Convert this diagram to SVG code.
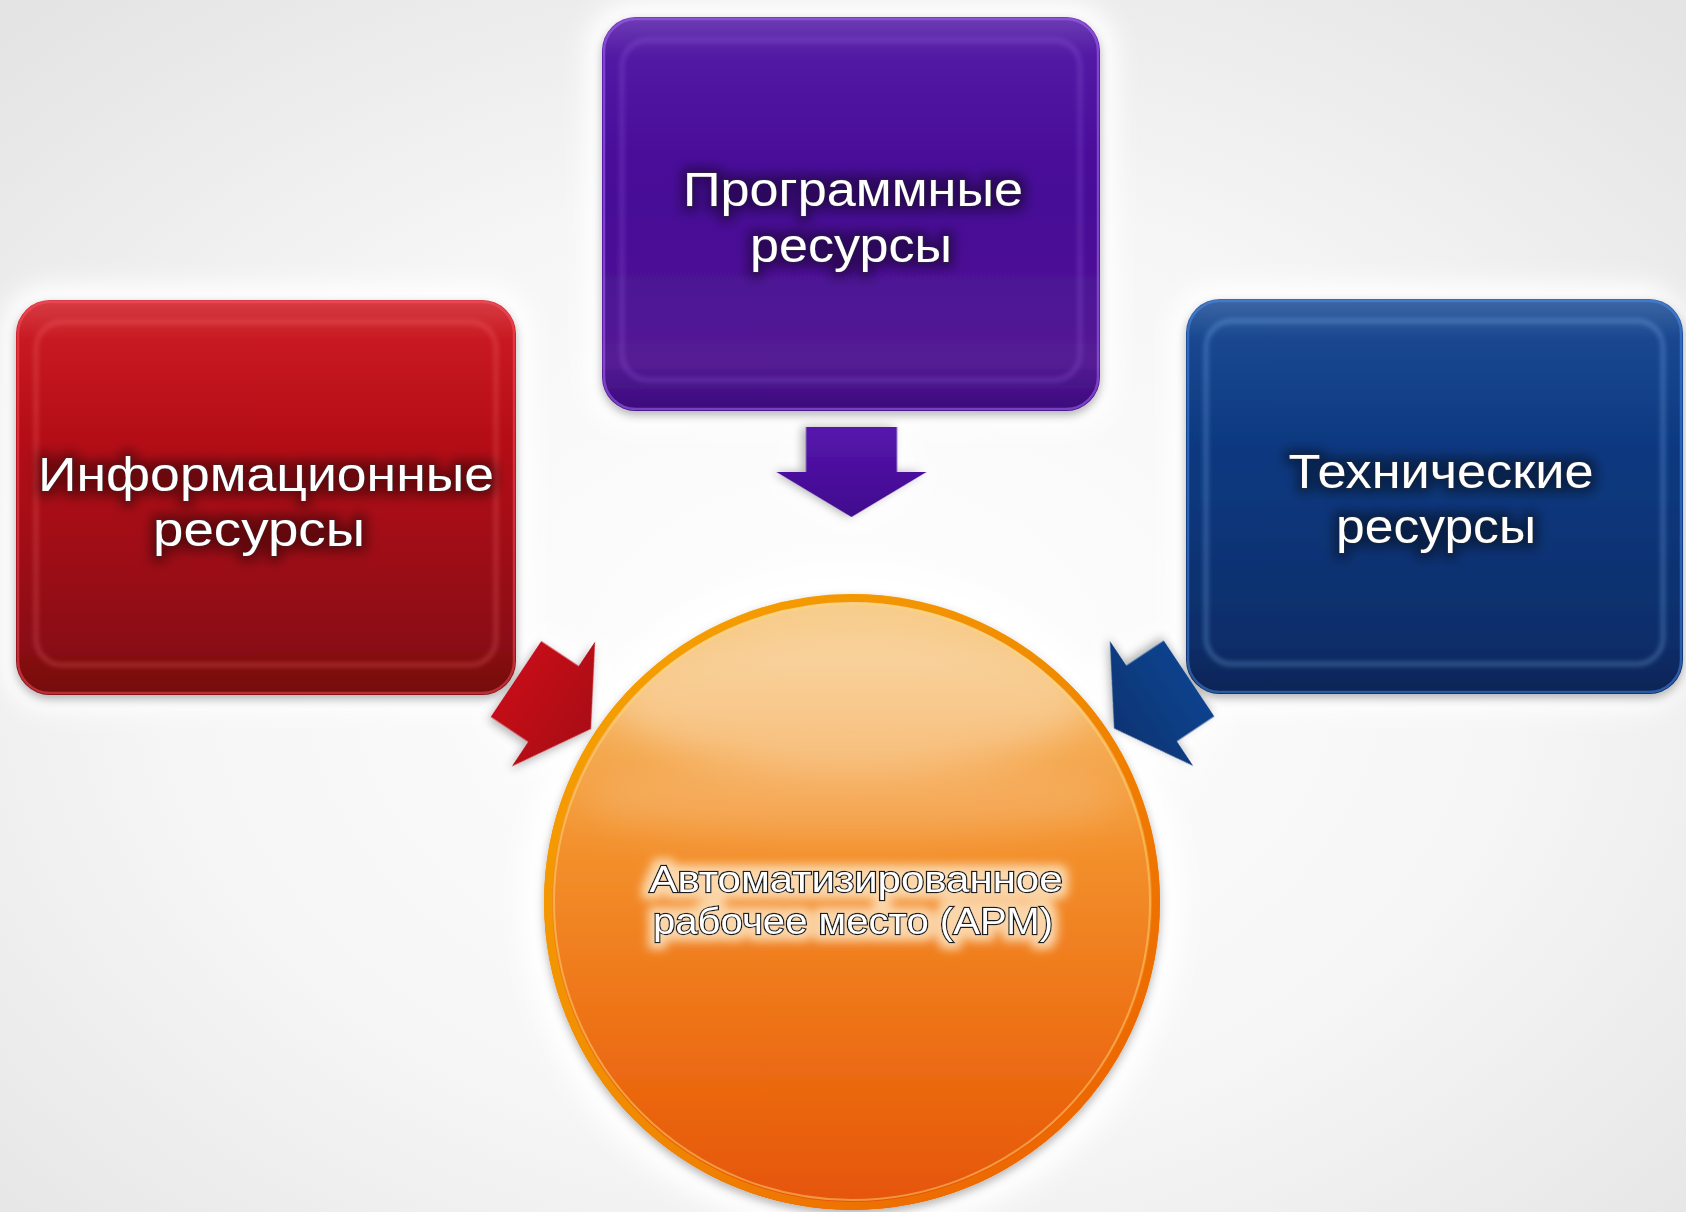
<svg xmlns="http://www.w3.org/2000/svg" width="1686" height="1212" viewBox="0 0 1686 1212">
<defs>
<style>
.lbl{font-family:"Liberation Sans",Arial,sans-serif;fill:#ffffff;text-anchor:middle;}
.big{font-size:49px;stroke:#2a2a2a;stroke-width:0.8px;paint-order:stroke;}
.small{font-size:36px;stroke:#1e1e1e;stroke-width:2.4px;paint-order:stroke;}
.glow{fill:#ffffff;filter:url(#whiteGlow);}
.gloss{fill:url(#gloss);}
.bevel{fill:none;stroke-width:3;filter:url(#soft);}
</style>
<radialGradient id="bg" cx="0.5" cy="0.55" r="0.72">
<stop offset="0" stop-color="#ffffff"/>
<stop offset="0.55" stop-color="#f6f6f6"/>
<stop offset="1" stop-color="#e4e4e4"/>
</radialGradient>
<linearGradient id="purpleG" x1="0" y1="0" x2="0" y2="1">
<stop offset="0" stop-color="#4a08a2"/>
<stop offset="0.5" stop-color="#470a96"/>
<stop offset="0.88" stop-color="#541c94"/>
<stop offset="1" stop-color="#3a087c"/>
</linearGradient>
<linearGradient id="redG" x1="0" y1="0" x2="0" y2="1">
<stop offset="0" stop-color="#cc0816"/>
<stop offset="0.5" stop-color="#aa0816"/>
<stop offset="0.88" stop-color="#8a0a12"/>
<stop offset="1" stop-color="#74080e"/>
</linearGradient>
<linearGradient id="blueG" x1="0" y1="0" x2="0" y2="1">
<stop offset="0" stop-color="#0c408e"/>
<stop offset="0.5" stop-color="#0a377c"/>
<stop offset="0.88" stop-color="#092d68"/>
<stop offset="1" stop-color="#072456"/>
</linearGradient>
<linearGradient id="gloss" x1="0" y1="0" x2="0" y2="1">
<stop offset="0" stop-color="#ffffff" stop-opacity="0.2"/>
<stop offset="0.1" stop-color="#ffffff" stop-opacity="0.05"/>
<stop offset="0.35" stop-color="#ffffff" stop-opacity="0"/>
<stop offset="1" stop-color="#ffffff" stop-opacity="0"/>
</linearGradient>
<linearGradient id="arrowPurple" x1="0" y1="0" x2="1" y2="0">
<stop offset="0" stop-color="#5616ac"/>
<stop offset="1" stop-color="#40088e"/>
</linearGradient>
<linearGradient id="arrowRed" x1="0" y1="0" x2="1" y2="0">
<stop offset="0" stop-color="#c40e1a"/>
<stop offset="1" stop-color="#aa0812"/>
</linearGradient>
<linearGradient id="arrowBlue" x1="0" y1="0" x2="1" y2="0">
<stop offset="0" stop-color="#0d428c"/>
<stop offset="1" stop-color="#093474"/>
</linearGradient>
<linearGradient id="orangeG" x1="0" y1="0" x2="0" y2="1">
<stop offset="0" stop-color="#f7cf90"/>
<stop offset="0.18" stop-color="#f5b460"/>
<stop offset="0.4" stop-color="#f3922e"/>
<stop offset="0.7" stop-color="#ee7216"/>
<stop offset="1" stop-color="#e55406"/>
</linearGradient>
<linearGradient id="ringG" x1="0" y1="0" x2="1" y2="1">
<stop offset="0" stop-color="#f7a400"/>
<stop offset="0.5" stop-color="#f08a00"/>
<stop offset="1" stop-color="#ec5a00"/>
</linearGradient>
<filter id="whiteGlow" x="-20%" y="-20%" width="140%" height="140%">
<feGaussianBlur stdDeviation="12"/>
</filter>
<filter id="shadow" x="-10%" y="-10%" width="120%" height="125%">
<feDropShadow dx="0" dy="4" stdDeviation="5" flood-color="#000000" flood-opacity="0.3"/>
</filter>
<filter id="soft" x="-10%" y="-10%" width="120%" height="120%">
<feGaussianBlur stdDeviation="2.5"/>
</filter>
<filter id="blurBig" x="-30%" y="-60%" width="160%" height="220%">
<feGaussianBlur stdDeviation="18"/>
</filter>
<filter id="txtDark" x="-15%" y="-40%" width="130%" height="180%">
<feMorphology in="SourceAlpha" operator="dilate" radius="5" result="d"/>
<feGaussianBlur in="d" stdDeviation="6" result="b"/>
<feFlood flood-color="#000000" flood-opacity="0.4"/>
<feComposite in2="b" operator="in" result="halo"/>
<feMerge><feMergeNode in="halo"/><feMergeNode in="SourceGraphic"/></feMerge>
</filter>
<filter id="txtLight" x="-15%" y="-40%" width="130%" height="180%">
<feMorphology in="SourceAlpha" operator="dilate" radius="6" result="d"/>
<feGaussianBlur in="d" stdDeviation="5" result="b"/>
<feFlood flood-color="#fff1d6" flood-opacity="0.75"/>
<feComposite in2="b" operator="in" result="halo"/>
<feMerge><feMergeNode in="halo"/><feMergeNode in="SourceGraphic"/></feMerge>
</filter>
<path id="arrowShape" d="M0,-45.5 L45,-45.5 L45,-75 L90,0 L45,75 L45,45.5 L0,45.5 Z"/>
</defs>

<rect x="0" y="0" width="1686" height="1212" fill="url(#bg)"/>
<g id="background-glow">
<rect class="glow" x="586" y="2" width="530" height="426" rx="48"/>
<rect class="glow" x="2" y="285" width="530" height="425" rx="48"/>
<rect class="glow" x="1171" y="284" width="515" height="426" rx="48"/>
<circle class="glow" cx="852" cy="902" r="332"/>
<use href="#arrowShape" class="glow" transform="translate(851.5,420) rotate(90) scale(1.2)"/>
<use href="#arrowShape" class="glow" transform="translate(510,675) rotate(33.7) scale(1.2)"/>
<use href="#arrowShape" class="glow" transform="translate(1195,675) rotate(146.3) scale(1.2)"/>
</g>

<g id="node-programmnye">
<rect x="602" y="17" width="498" height="394" rx="34" fill="url(#purpleG)" filter="url(#shadow)"/>
<rect x="602" y="17" width="498" height="394" rx="34" class="gloss"/>
<rect x="604" y="19" width="494" height="390" rx="32" fill="none" stroke="#a060f0" stroke-opacity="0.6" stroke-width="2.5"/>
<rect x="622" y="40" width="458" height="340" rx="26" class="bevel" stroke="#9a62e0" stroke-opacity="0.45"/>
<text class="lbl big" filter="url(#txtDark)"><tspan x="853" y="206" textLength="340" lengthAdjust="spacingAndGlyphs">Программные</tspan><tspan x="851" y="262" textLength="202" lengthAdjust="spacingAndGlyphs">ресурсы</tspan></text>
</g>

<g id="node-informatsionnye">
<rect x="16" y="300" width="500" height="395" rx="34" fill="url(#redG)" filter="url(#shadow)"/>
<rect x="16" y="300" width="500" height="395" rx="34" class="gloss"/>
<rect x="18" y="302" width="496" height="391" rx="32" fill="none" stroke="#ff5060" stroke-opacity="0.5" stroke-width="2.5"/>
<rect x="36" y="322" width="460" height="343" rx="26" class="bevel" stroke="#ff7a80" stroke-opacity="0.4"/>
<text class="lbl big" filter="url(#txtDark)"><tspan x="266" y="491" textLength="456" lengthAdjust="spacingAndGlyphs">Информационные</tspan><tspan x="259" y="546" textLength="212" lengthAdjust="spacingAndGlyphs">ресурсы</tspan></text>
</g>

<g id="node-tekhnicheskie">
<rect x="1186" y="299" width="497" height="395" rx="34" fill="url(#blueG)" filter="url(#shadow)"/>
<rect x="1186" y="299" width="497" height="395" rx="34" class="gloss"/>
<rect x="1188" y="301" width="493" height="391" rx="32" fill="none" stroke="#4a90f0" stroke-opacity="0.5" stroke-width="2.5"/>
<rect x="1206" y="321" width="457" height="343" rx="26" class="bevel" stroke="#8fc4ff" stroke-opacity="0.45"/>
<text class="lbl big" filter="url(#txtDark)"><tspan x="1441" y="488" textLength="305" lengthAdjust="spacingAndGlyphs">Технические</tspan><tspan x="1436" y="543" textLength="200" lengthAdjust="spacingAndGlyphs">ресурсы</tspan></text>
</g>

<g id="node-arm">
<circle cx="852" cy="902" r="308" fill="url(#orangeG)" filter="url(#shadow)"/>
<ellipse cx="852" cy="700" rx="240" ry="70" fill="#ffffff" fill-opacity="0.28" filter="url(#blurBig)"/>
<ellipse cx="852" cy="800" rx="270" ry="40" fill="#ffffff" fill-opacity="0.15" filter="url(#blurBig)"/>
<circle cx="852" cy="902" r="304" fill="none" stroke="url(#ringG)" stroke-width="8"/>
<circle cx="852" cy="902" r="298" fill="none" stroke="#ffd870" stroke-opacity="0.5" stroke-width="2"/>
<text class="lbl small" filter="url(#txtLight)"><tspan x="856" y="892" textLength="413" lengthAdjust="spacingAndGlyphs">Автоматизированное</tspan><tspan x="853" y="934" textLength="400" lengthAdjust="spacingAndGlyphs">рабочее место (АРМ)</tspan></text>
</g>

<g id="connectors">
<g id="arrow-programmnye" transform="translate(851.5,427) rotate(90)">
<use href="#arrowShape" fill="url(#arrowPurple)" filter="url(#shadow)"/>
<path d="M8,-30 L40,-30" stroke="#b080ff" stroke-opacity="0.45" stroke-width="4" filter="url(#soft)"/>
</g>
<g id="arrow-informatsionnye" transform="translate(516,679) rotate(33.7)">
<use href="#arrowShape" fill="url(#arrowRed)" filter="url(#shadow)"/>
<path d="M12,-25 L40,-25" stroke="#ff8890" stroke-opacity="0.45" stroke-width="5" filter="url(#soft)"/>
</g>
<g id="arrow-tekhnicheskie" transform="translate(1189,678.5) rotate(146.3)">
<use href="#arrowShape" fill="url(#arrowBlue)" filter="url(#shadow)"/>
<path d="M12,25 L40,25" stroke="#9fd0ff" stroke-opacity="0.55" stroke-width="5" filter="url(#soft)"/>
</g>
</g>
</svg>
